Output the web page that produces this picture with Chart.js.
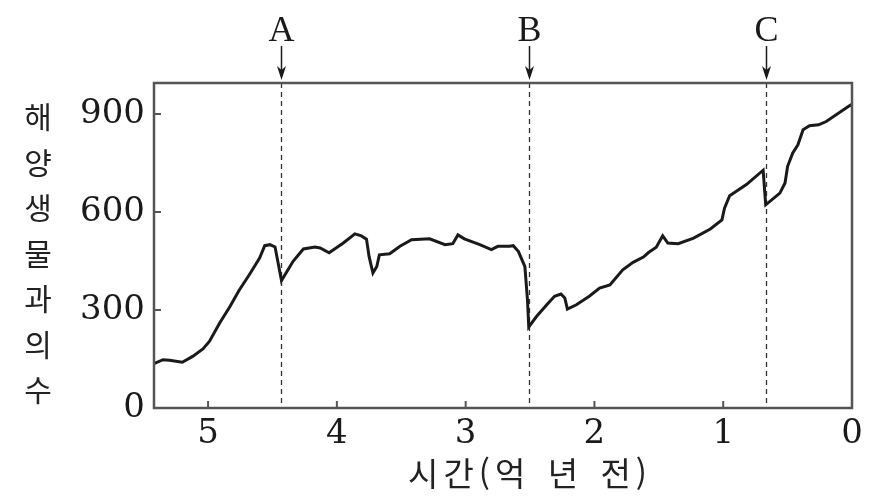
<!DOCTYPE html>
<html lang="ko">
<head>
<meta charset="utf-8">
<title>해양 생물 과의 수</title>
<script src="https://cdn.jsdelivr.net/npm/chart.js@4.4.1/dist/chart.umd.min.js"></script>
<style>
  html, body { margin: 0; padding: 0; background: #fff; }
  #wrap { width: 876px; height: 499px; }
</style>
</head>
<body>
<div id="wrap"><canvas id="myChart" width="876" height="499"></canvas></div>
<script>
// 시간 (억 년 전)
const ages = [5.42, 5.35, 5.30, 5.20, 5.12, 5.04, 4.99, 4.91, 4.83, 4.76,
    4.68, 4.60, 4.56, 4.52, 4.48, 4.43, 4.34, 4.26, 4.17, 4.13,
    4.06, 3.95, 3.86, 3.81, 3.77, 3.75, 3.72, 3.69, 3.67, 3.59,
    3.51, 3.42, 3.28, 3.16, 3.10, 3.06, 3.01, 2.89, 2.80, 2.75,
    2.66, 2.63, 2.59, 2.54, 2.52, 2.51, 2.45, 2.37, 2.31, 2.26,
    2.23, 2.21, 2.14, 2.04, 1.96, 1.88, 1.78, 1.70, 1.62, 1.58,
    1.52, 1.47, 1.43, 1.35, 1.23, 1.10, 1.01, 0.99, 0.95, 0.82,
    0.69, 0.67, 0.56, 0.52, 0.50, 0.46, 0.42, 0.38, 0.33, 0.26,
    0.20, 0.02, 0];
// 해양 생물 과의 수
const families = [136, 148, 146, 140, 158, 181, 204, 260, 311, 360,
    408, 459, 497, 500, 493, 390, 449, 487, 493, 490,
    475, 505, 533, 527, 517, 464, 413, 433, 469, 472,
    495, 515, 518, 500, 503, 530, 518, 500, 485, 495,
    495, 497, 479, 433, 331, 248, 280, 316, 342, 349,
    337, 303, 316, 342, 367, 377, 423, 446, 462, 476,
    492, 527, 505, 503, 520, 548, 576, 612, 650, 684,
    728, 622, 658, 689, 740, 781, 806, 852, 864, 867,
    877, 925, 930];

const eventNames = ['A', 'B', 'C'];
const eventAges = [4.43, 2.51, 0.67];
const xTicks = [5, 4, 3, 2, 1, 0];
const yTicks = [0, 300, 600, 900];
const yTitle = '해양 생물 과의 수';
const xTitle = '시간(억 년 전)';

const ink = '#1a1a1a';
const frameColor = '#555';
const numFont = { family: "'DejaVu Serif', serif", size: 34 };

const points = ages.map((a, i) => ({ x: a, y: families[i] }));

// frame, inward ticks, event markers and axis titles
const decorations = {
    id: 'decorations',
    beforeDatasetsDraw(chart) {
        const { ctx, chartArea: area, scales: { x } } = chart;
        ctx.save();
        ctx.strokeStyle = '#333';
        ctx.lineWidth = 1.3;
        ctx.setLineDash([5, 4]);
        eventAges.forEach(a => {
            const px = Math.round(x.getPixelForValue(a)) + 0.5;
            ctx.beginPath();
            ctx.moveTo(px, area.top);
            ctx.lineTo(px, area.bottom);
            ctx.stroke();
        });
        ctx.restore();
    },
    afterDatasetsDraw(chart) {
        const { ctx, chartArea: area, scales: { x, y } } = chart;
        ctx.save();

        // frame
        ctx.strokeStyle = frameColor;
        ctx.lineWidth = 2.5;
        ctx.strokeRect(area.left, area.top, area.right - area.left, area.bottom - area.top);

        // tick marks pointing inward
        ctx.lineWidth = 2;
        ctx.beginPath();
        x.ticks.forEach(t => {
            if (t.value === 0) return;
            const px = x.getPixelForValue(t.value);
            ctx.moveTo(px, area.bottom);
            ctx.lineTo(px, area.bottom - 7);
        });
        y.ticks.forEach(t => {
            if (t.value === 0) return;
            const py = y.getPixelForValue(t.value);
            ctx.moveTo(area.left, py);
            ctx.lineTo(area.left + 7, py);
        });
        ctx.stroke();

        // event arrows and letters
        ctx.fillStyle = ink;
        ctx.strokeStyle = ink;
        ctx.lineWidth = 1.5;
        ctx.textAlign = 'center';
        ctx.textBaseline = 'middle';
        ctx.font = "36px 'Liberation Serif', serif";
        eventAges.forEach((a, i) => {
            const px = Math.round(x.getPixelForValue(a)) + 0.5;
            const tip = area.top - 3;
            ctx.beginPath();
            ctx.moveTo(px, area.top - 37);
            ctx.lineTo(px, tip - 8);
            ctx.stroke();
            ctx.beginPath();
            ctx.moveTo(px, tip);
            ctx.lineTo(px - 4.5, tip - 14);
            ctx.lineTo(px, tip - 10);
            ctx.lineTo(px + 4.5, tip - 14);
            ctx.closePath();
            ctx.fill();
            ctx.fillText(eventNames[i], px, 32);
        });

        // y title, one character per line
        ctx.fillStyle = '#222';
        ctx.font = "30px 'Noto Sans CJK KR', sans-serif";
        const chars = yTitle.replace(/\s/g, '').split('');
        chars.forEach((c, i) => ctx.fillText(c, 38, 117 + i * 45.5));

        // x title
        ctx.font = "33px 'Noto Sans CJK KR', sans-serif";
        ctx.letterSpacing = '5px';
        ctx.wordSpacing = '5px';
        ctx.fillText(xTitle, 530, 473);

        ctx.restore();
    }
};

const myChart = new Chart(document.getElementById('myChart').getContext('2d'), {
    type: 'line',
    data: {
        datasets: [{
            data: points,
            borderColor: ink,
            borderWidth: 3,
            pointRadius: 0,
            tension: 0,
            fill: false
        }]
    },
    options: {
        responsive: false,
        animation: false,
        devicePixelRatio: 1,
        layout: { padding: { top: 83, right: 24, left: 0, bottom: 0 } },
        plugins: { legend: { display: false }, tooltip: { enabled: false } },
        scales: {
            x: {
                type: 'linear',
                reverse: true,
                min: 0,
                max: 5.42,
                afterBuildTicks: s => { s.ticks = xTicks.map(v => ({ value: v })); },
                afterFit: s => { s.height = 91; },
                grid: { display: false, drawTicks: false },
                border: { display: false },
                ticks: { font: numFont, color: ink, padding: 6, maxRotation: 0 }
            },
            y: {
                min: 0,
                max: 995,
                afterBuildTicks: s => { s.ticks = yTicks.map(v => ({ value: v })); },
                afterFit: s => { s.width = 154; },
                grid: { display: false, drawTicks: false },
                border: { display: false },
                ticks: { font: numFont, color: ink, padding: 9 }
            }
        }
    },
    plugins: [decorations]
});
</script>
</body>
</html>
